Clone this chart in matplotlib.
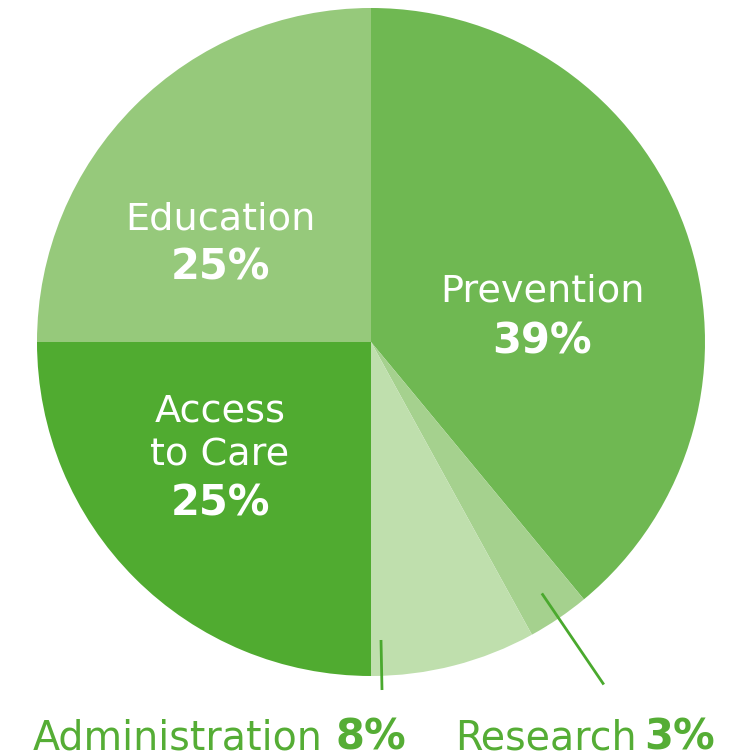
import matplotlib
matplotlib.use('Agg')
import matplotlib.pyplot as plt
import numpy as np

# Data
labels = ['Prevention', 'Research', 'Administration', 'Access to Care', 'Education']
values = [39, 3, 8, 25, 25]
colors = ['#6fb852', '#a5d18e', '#bfdfad', '#50ab30', '#96c97b']
green_text = '#55ad35'

W, H = 738, 755
fig = plt.figure(figsize=(W / 100, H / 100), dpi=100)
ax = fig.add_axes([0, 0, 1, 1])

cx, cy, R = 371, H - 342, 334
wedges, _ = ax.pie(values, colors=colors, startangle=90, counterclock=False,
                   center=(cx, cy), radius=R, frame=True,
                   wedgeprops=dict(linewidth=0))
ax.set_xlim(0, W)
ax.set_ylim(0, H)
ax.set_aspect('equal')
ax.axis('off')

font = 'DejaVu Sans'
reg = 27.5
bld = 30

def py(y):
    return H - y

def label(x, y, s, size, bold=False, color='white', ha='center'):
    ax.text(x, py(y), s, color=color, fontsize=size, ha=ha, va='baseline',
            family=font, weight='bold' if bold else 'normal')

# inside labels (white)
label(220, 230, 'Education', reg)
label(220, 280, '25%', bld, bold=True)
label(542, 302, 'Prevention', reg)
label(542, 353, '39%', bld, bold=True)
label(220, 422, 'Access', reg)
label(220, 465, 'to Care', reg)
label(220, 515, '25%', bld, bold=True)

# leader line for Research along its mid angle
w = wedges[1]
mid = np.deg2rad((w.theta1 + w.theta2) / 2)
r0, r1 = 0.91 * R, 1.24 * R
ax.plot([cx + r0 * np.cos(mid), cx + r1 * np.cos(mid)],
        [cy + r0 * np.sin(mid), cy + r1 * np.sin(mid)],
        color='#4aa92e', lw=2, solid_capstyle='butt')
# leader line for Administration
ax.plot([381, 382], [py(640), py(690)], color='#4aa92e', lw=2, solid_capstyle='butt')

# outside labels
label(33, 749, 'Administration', 28.5, color=green_text, ha='left')
label(406, 749, '8%', bld, bold=True, color=green_text, ha='right')
label(455, 749, 'Research', 28.5, color=green_text, ha='left')
label(715, 749, '3%', bld, bold=True, color=green_text, ha='right')

fig.savefig('out.png', dpi=100)
